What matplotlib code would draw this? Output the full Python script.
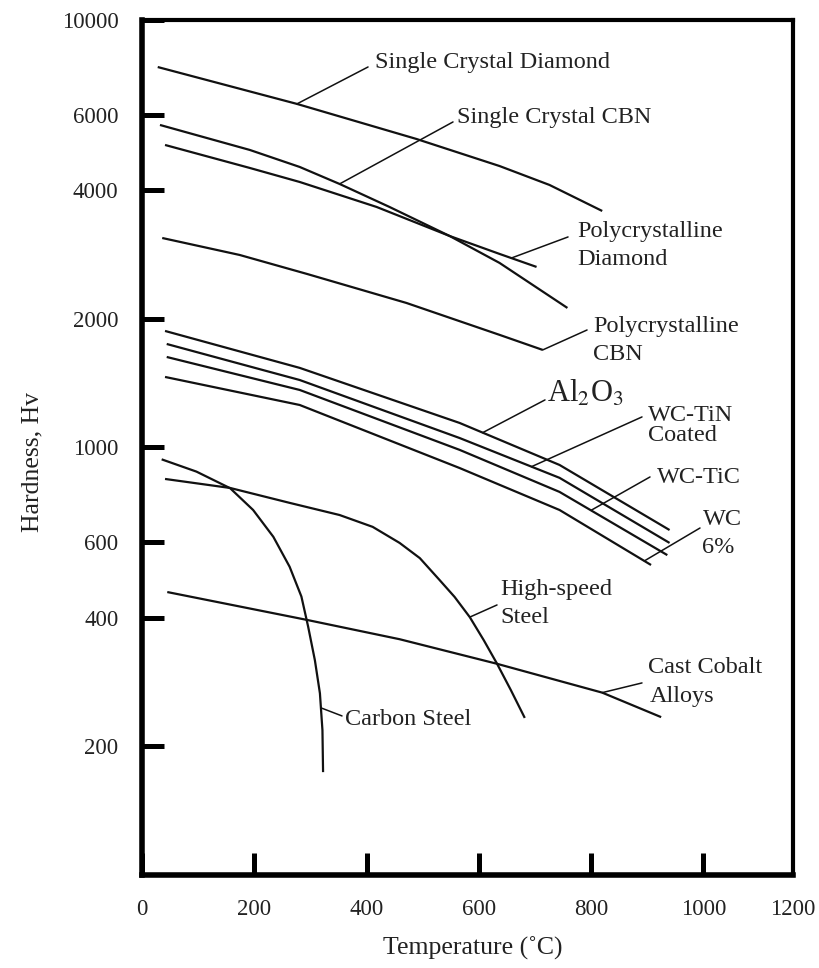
import numpy as np
import matplotlib.pyplot as plt
from matplotlib.ticker import NullLocator

plt.rcParams['font.family'] = ['Liberation Serif', 'DejaVu Serif']
plt.rcParams['mathtext.fontset'] = 'stix'

# hardness (Hv) vs temperature (C)
scd_t = [28, 276, 489, 637, 726, 820]
scd_hv = [7760, 6362, 5267, 4553, 4112, 3574]

sccbn_t = [32, 192, 281, 352, 441, 548, 637, 758]
sccbn_hv = [5680, 4965, 4530, 4134, 3652, 3124, 2702, 2120]

pcd_t = [41, 192, 281, 418, 548, 637, 703]
pcd_hv = [5100, 4506, 4178, 3652, 3124, 2836, 2644]

pcbn_t = [36, 174, 294, 471, 637, 714]
pcbn_hv = [3090, 2820, 2546, 2178, 1834, 1691]

al2o3_t = [41, 281, 566, 744, 940]
al2o3_hv = [1873, 1535, 1141, 910, 641]

wctin_t = [44, 281, 566, 744, 940]
wctin_hv = [1746, 1438, 1052, 849, 598]

wctic_t = [44, 281, 566, 744, 936]
wctic_hv = [1628, 1363, 987, 787, 560]

wc_t = [41, 281, 566, 744, 907]
wc_hv = [1462, 1257, 895, 714, 531]

hss_t = [41, 157, 263, 352, 411, 459, 495, 530, 557, 584, 609, 632, 657, 682]
hss_hv = [844, 804, 742, 695, 652, 598, 551, 490, 447, 401, 354, 313, 271, 233]

carbon_t = [35, 97, 157, 198, 234, 263, 284, 296, 308, 317, 321.5, 322.6]
carbon_hv = [938, 878, 803, 714, 618, 526, 448, 381, 318, 266, 218, 174]

cobalt_t = [45, 294, 459, 632, 820, 925]
cobalt_hv = [459, 395, 356, 312, 267, 234]

y_ticks = [200, 400, 600, 1000, 2000, 4000, 6000, 10000]
x_ticks = [0, 200, 400, 600, 800, 1000]


def on_curve(t, ts, hvs):
    return t, 10 ** np.interp(t, ts, np.log10(hvs))


fig = plt.figure(figsize=(8.19, 9.68), dpi=100)
ax = fig.add_axes([0.1734, 0.0961, 0.7949, 0.8833])

curves = [(scd_t, scd_hv), (sccbn_t, sccbn_hv), (pcd_t, pcd_hv), (pcbn_t, pcbn_hv),
          (al2o3_t, al2o3_hv), (wctin_t, wctin_hv), (wctic_t, wctic_hv), (wc_t, wc_hv),
          (hss_t, hss_hv), (carbon_t, carbon_hv), (cobalt_t, cobalt_hv)]
for t, hv in curves:
    ax.plot(t, hv, color='#111111', lw=1.6, solid_capstyle='butt',
            solid_joinstyle='round')

ax.set_yscale('log')
ax.set_xlim(0, 1160)
ax.set_ylim(100, 10000)
ax.set_yticks(y_ticks, [str(v) for v in y_ticks])
ax.yaxis.set_minor_locator(NullLocator())
ax.set_xticks(x_ticks, [str(v) for v in x_ticks])
ax.text(1.0, -0.0276, '1200', transform=ax.transAxes, ha='center', va='top',
        fontsize=16.5, color='#222222')
ax.tick_params(direction='in', length=15.5, width=3.6, pad=17, labelsize=16.5,
               labelcolor='#222222')
for side in ['left', 'bottom']:
    ax.spines[side].set_linewidth(4)
for side in ['top', 'right']:
    ax.spines[side].set_linewidth(3)

ax.set_xlabel('Temperature (\u02daC)', fontsize=18.5, color='#222222')
ax.xaxis.set_label_coords(0.508, -0.072)
ax.set_ylabel('Hardness, Hv', fontsize=18.5, color='#222222')
ax.yaxis.set_label_coords(-0.152, 0.483)

# leader lines: (point on curve, leader end in axes fraction)
carbon_pt = (np.interp(np.log10(246), np.log10(carbon_hv[::-1]), carbon_t[::-1]), 246)
leaders = [
    (on_curve(276, scd_t, scd_hv), (0.3472, 0.9450)),
    (on_curve(352, sccbn_t, sccbn_hv), (0.4777, 0.8807)),
    (on_curve(658, pcd_t, pcd_hv), (0.6544, 0.7462)),
    (on_curve(714, pcbn_t, pcbn_hv), (0.6836, 0.6374)),
    (on_curve(607, al2o3_t, al2o3_hv), (0.6190, 0.5556)),
    (on_curve(694, wctin_t, wctin_hv), (0.7680, 0.5357)),
    (on_curve(800, wctic_t, wctic_hv), (0.7803, 0.4655)),
    (on_curve(895, wc_t, wc_hv), (0.8571, 0.4058)),
    (on_curve(584, hss_t, hss_hv), (0.5453, 0.3158)),
    (on_curve(820, cobalt_t, cobalt_hv), (0.7680, 0.2246)),
    (carbon_pt, (0.3072, 0.1860)),
]
for xy, end in leaders:
    ax.annotate('', xy=xy, xycoords='data', xytext=end, textcoords='axes fraction',
                arrowprops=dict(arrowstyle='-', color='#111111', lw=1.1,
                                shrinkA=0, shrinkB=0))

# labels (baseline positions in axes fraction)
labels = [
    ('Single Crystal Diamond', 0.3579, 0.9439),
    ('Single Crystal CBN', 0.4839, 0.8795),
    ('Polycrystalline', 0.6682, 0.7462),
    ('Diamond', 0.6682, 0.7135),
    ('Polycrystalline', 0.6928, 0.6351),
    ('CBN', 0.6928, 0.6023),
    ('WC-TiN', 0.7773, 0.5310),
    ('Coated', 0.7773, 0.5076),
    ('WC-TiC', 0.7911, 0.4585),
    ('WC', 0.8618, 0.4094),
    ('6%', 0.8602, 0.3766),
    ('High-speed', 0.5499, 0.3275),
    ('Steel', 0.5499, 0.2947),
    ('Cast Cobalt', 0.7773, 0.2363),
    ('Alloys', 0.7803, 0.2023),
    ('Carbon Steel', 0.3118, 0.1754),
]
for s, fx, fy in labels:
    ax.text(fx, fy, s, transform=ax.transAxes, fontsize=17.5, ha='left',
            va='baseline', color='#222222')
ax.text(0.6221, 0.5532, r'Al$_2$O$_3$', transform=ax.transAxes, fontsize=22,
        ha='left', va='baseline', color='#222222')

fig.savefig('out.png', dpi=100)
